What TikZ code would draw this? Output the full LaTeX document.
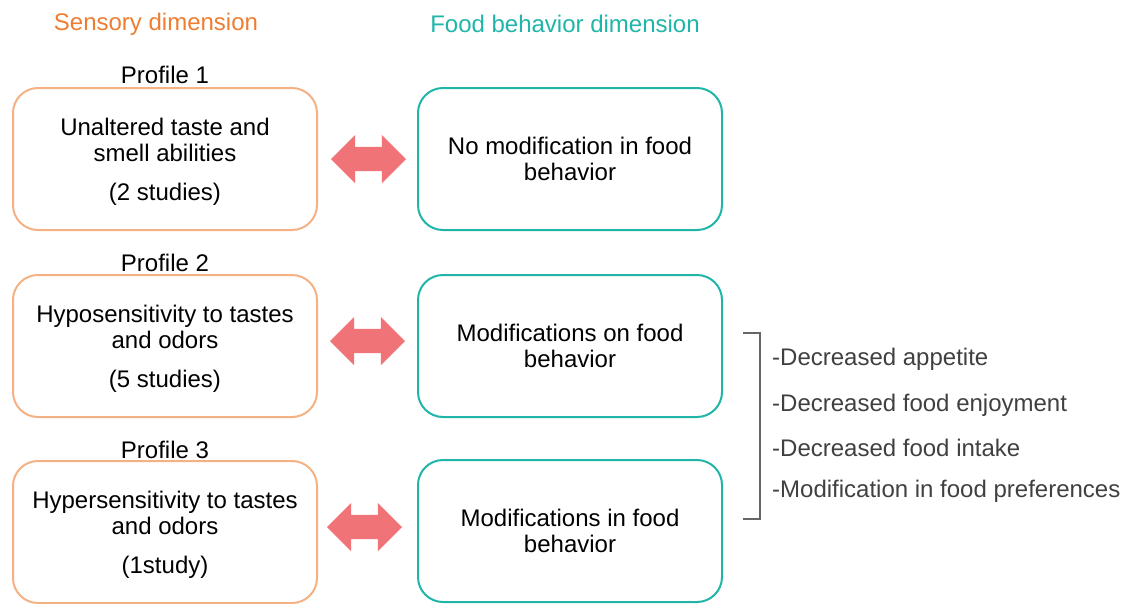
\documentclass[tikz,border=0pt]{standalone}
\usepackage{fontspec}
\setmainfont{Liberation Sans}
\usetikzlibrary{shapes.arrows}
\definecolor{sensor}{HTML}{F4B183}
\definecolor{sensortxt}{HTML}{ED7D31}
\definecolor{foodc}{HTML}{1FB5A8}
\definecolor{arrowc}{HTML}{F07378}
\definecolor{listc}{HTML}{404040}
\begin{document}
\begin{tikzpicture}[x=1pt,y=-1pt,
  txt/.style={font=\fontsize{24}{25.5}\selectfont, align=center, inner sep=0pt},
  sbox/.style={draw=sensor, line width=2pt, rounded corners=25pt, minimum width=304pt, minimum height=142pt, inner sep=0pt},
  fbox/.style={draw=foodc, line width=2pt, rounded corners=25pt, minimum width=304pt, minimum height=142pt, inner sep=0pt},
  boxtxt/.style={txt, yshift=-3pt},
  darrow/.style={double arrow, fill=arrowc, draw=none, minimum width=48pt, minimum height=75pt, double arrow head extend=12pt, inner sep=0pt, inner ysep=12pt, inner xsep=0pt},
  item/.style={font=\fontsize{24}{26}\selectfont, text=listc, anchor=west, inner sep=0pt}]
\useasboundingbox (0,0) rectangle (1125,603);
\node[txt, text=sensortxt] (t1) at (156,24) {Sensory dimension};
\node[txt, text=foodc] (t2) at (565,24) {Food behavior dimension};

\node[txt] (p1) at (165,75) {Profile 1};
\node[txt] (p2) at (165,263) {Profile 2};
\node[txt] (p3) at (165,450) {Profile 3};

\node[sbox] (s1) at (165,159) {};
\node[sbox] (s2) at (165,346) {};
\node[sbox] (s3) at (165,532) {};
\node[boxtxt] (s1t) at (s1) {Unaltered taste and\\smell abilities\\[14pt](2 studies)};
\node[boxtxt] (s2t) at (s2) {Hyposensitivity to tastes\\and odors\\[14pt](5 studies)};
\node[boxtxt] (s3t) at (s3) {Hypersensitivity to tastes\\and odors\\[14pt](1study)};

\node[fbox] (f1) at (570,159) {};
\node[fbox] (f2) at (570,346) {};
\node[fbox] (f3) at (570,531) {};
\node[txt] (f1t) at (f1) {No modification in food\\behavior};
\node[txt] (f2t) at (f2) {Modifications on food\\behavior};
\node[txt] (f3t) at (f3) {Modifications in food\\behavior};

\node[darrow] (a1) at (368.5,159) {};
\node[darrow] (a2) at (367.5,341) {};
\node[darrow] (a3) at (364.5,527) {};

\draw[listc!80, line width=1.2pt] (743,333) -- (760,333) -- (760,519) -- (743,519);

\node[item] (l1) at (772,359) {-Decreased appetite};
\node[item] (l2) at (772,405) {-Decreased food enjoyment};
\node[item] (l3) at (772,448) {-Decreased food intake};
\node[item] (l4) at (772,491) {-Modification in food preferences};
\end{tikzpicture}
\end{document}
